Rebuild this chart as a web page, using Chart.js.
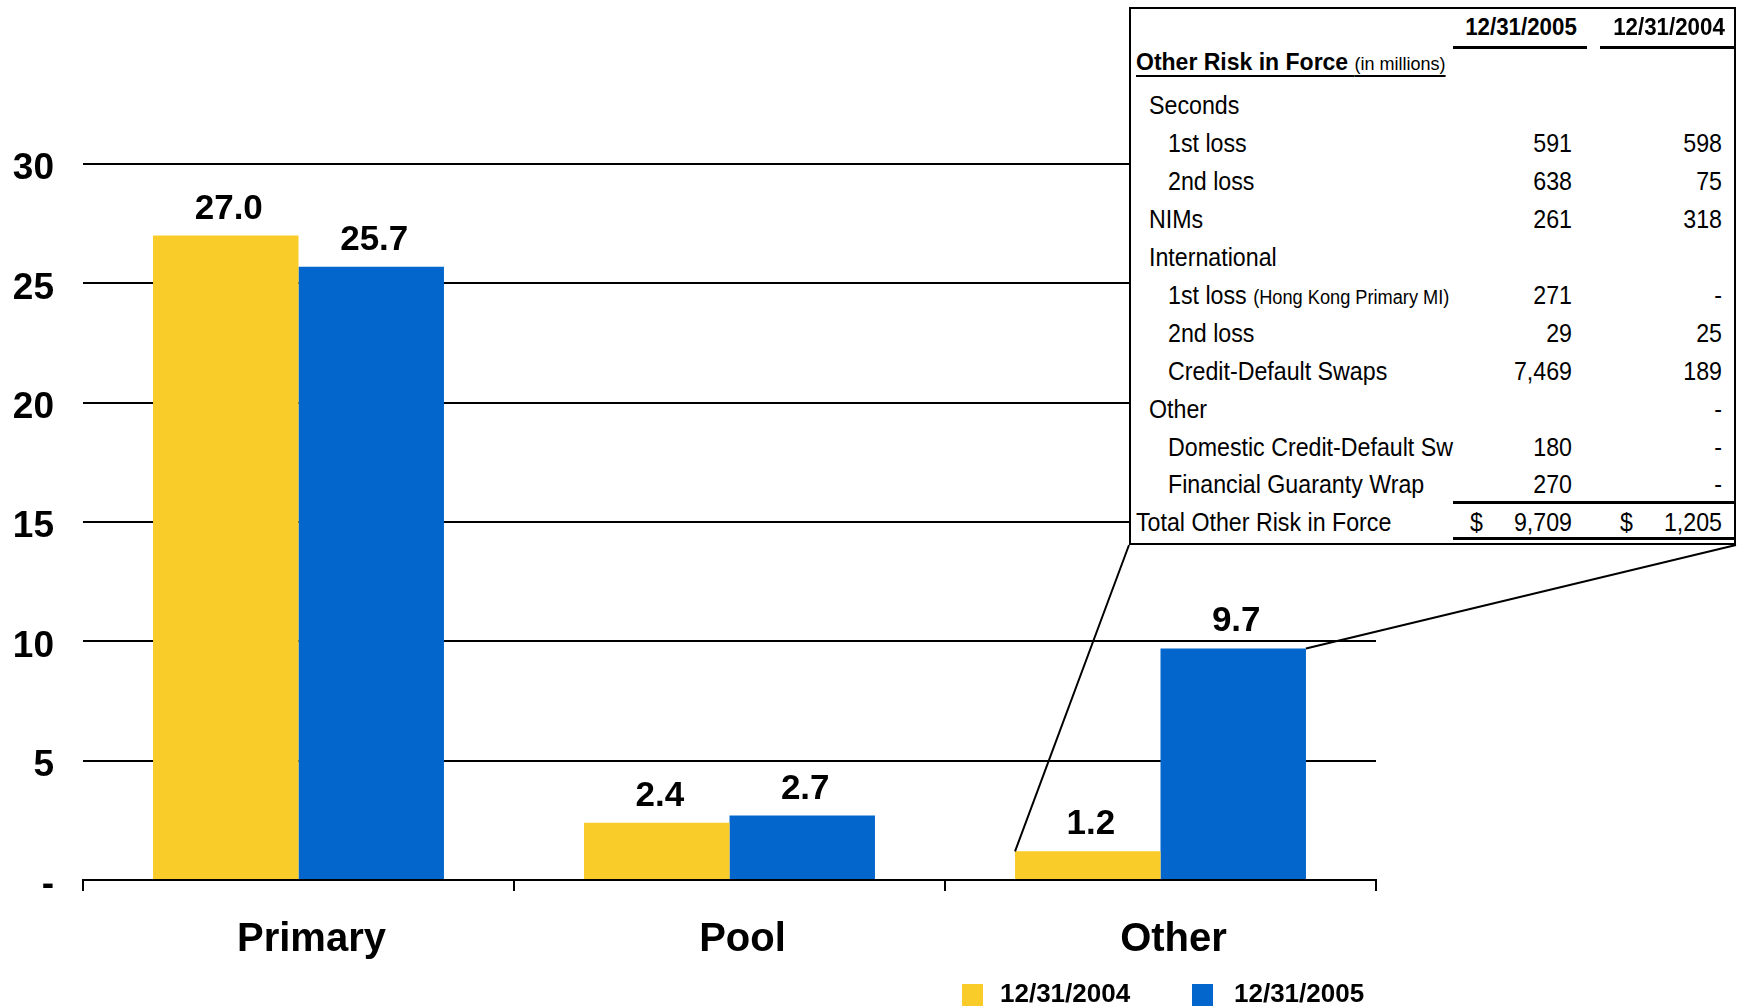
<!DOCTYPE html>
<html>
<head>
<meta charset="utf-8">
<script src="https://cdn.jsdelivr.net/npm/chart.js@4.4.1/dist/chart.umd.min.js"></script>
<style>
  html, body { margin: 0; padding: 0; background: #fff; overflow: hidden; }
  #wrap { position: relative; width: 1744px; height: 1006px; overflow: hidden; }
  #chart { position: absolute; left: 0; top: 0; }
  .t { position: absolute; white-space: nowrap; color: #000;
       font-family: "Liberation Sans", Arial, sans-serif; }
  .rule { position: absolute; background: #000; }
  #inset { position: absolute; left: 1129px; top: 7px; width: 607px; height: 538px;
           box-sizing: border-box; border: 2px solid #000; background: #fff; }
  .lg-box { position: absolute; width: 21px; height: 22px; }
</style>
</head>
<body>
<div id="wrap">
  <canvas id="chart" width="1744" height="1006"></canvas>
  <div id="inset"></div>
  <div id="legend"></div>
</div>
<script>
// ---- chart data (billions) ----
const categories = ['Primary', 'Pool', 'Other'];
const seriesLabels = ['12/31/2004', '12/31/2005'];
const values2004 = [27.0, 2.4, 1.2];
const values2005 = [25.7, 2.7, 9.7];
const seriesColors = ['#F9CC29', '#0366CC'];

// ---- inset table: Other Risk in Force (in millions) ----
const tableTitle = 'Other Risk in Force';
const tableTitleNote = '(in millions)';
const tableHeaders = ['12/31/2005', '12/31/2004'];
const rowLabels = ['Seconds', '1st loss', '2nd loss', 'NIMs', 'International', '1st loss', '2nd loss',
                   'Credit-Default Swaps', 'Other', 'Domestic Credit-Default Sw', 'Financial Guaranty Wrap'];
const rowNotes = ['', '', '', '', '', '(Hong Kong Primary MI)', '', '', '', '', ''];
const rowIndent = [1, 2, 2, 1, 1, 2, 2, 2, 1, 2, 2];
const rows2005 = ['', '591', '638', '261', '', '271', '29', '7,469', '', '180', '270'];
const rows2004 = ['', '598', '75', '318', '', '-', '25', '189', '-', '-', '-'];
const totalLabel = 'Total Other Risk in Force';
const totals = ['9,709', '1,205'];

const SANS = '"Liberation Sans", Arial, sans-serif';

// ---- inset table layout ----
const inset = document.getElementById('inset');
const ORG_X = 1131, ORG_Y = 9;           // inner origin of the inset box (page px)
const BODY = 25.5, BODY_SX = 0.91;       // condensed body type

function text(str, x, baseline, size, weight, align, sx) {
  const el = document.createElement('div');
  el.className = 't';
  el.style.fontSize = size + 'px';
  el.style.lineHeight = size + 'px';
  el.style.fontWeight = weight || 'normal';
  el.style.top = (baseline - 0.8465 * size - ORG_Y) + 'px';
  if (align === 'right') {
    el.style.left = (x - 400 - ORG_X) + 'px';
    el.style.width = '400px';
    el.style.textAlign = 'right';
    el.style.transformOrigin = 'right center';
  } else if (align === 'center') {
    el.style.left = (x - 200 - ORG_X) + 'px';
    el.style.width = '400px';
    el.style.textAlign = 'center';
    el.style.transformOrigin = 'center center';
  } else {
    el.style.left = (x - ORG_X) + 'px';
    el.style.transformOrigin = 'left center';
  }
  if (sx && sx !== 1) el.style.transform = 'scaleX(' + sx + ')';
  el.textContent = str;
  inset.appendChild(el);
  return el;
}
function rule(x1, x2, y, h) {
  const el = document.createElement('div');
  el.className = 'rule';
  el.style.left = (x1 - ORG_X) + 'px';
  el.style.width = (x2 - x1) + 'px';
  el.style.top = (y - ORG_Y) + 'px';
  el.style.height = h + 'px';
  inset.appendChild(el);
}

const COL_CENTER = [1521, 1669];
const COL_RIGHT = [1572, 1722];
const COL_RULE = [[1453, 1587], [1600, 1734]];
const INDENT_X = [1136, 1149, 1168];

tableHeaders.forEach((h, i) => {
  text(h, COL_CENTER[i], 35, 23, 'bold', 'center', 0.97);
  rule(COL_RULE[i][0], COL_RULE[i][1], 46, 3);
});

// title with underline
const title = text('', INDENT_X[0], 70.5, 23, 'bold', 'left', 1);
title.style.textDecoration = 'underline';
title.style.textDecorationThickness = '2px';
title.style.textUnderlineOffset = '5px';
title.innerHTML = tableTitle + ' <span style="font-weight:normal;font-size:18px">' + tableTitleNote + '</span>';

const ROW0 = 115, PITCH = 37.9;
rowLabels.forEach((lab, i) => {
  const base = ROW0 + i * PITCH;
  const el = text(lab, INDENT_X[rowIndent[i]], base, BODY, 'normal', 'left', BODY_SX);
  if (rowNotes[i]) {
    el.innerHTML = lab + ' <span style="font-size:20px">' + rowNotes[i] + '</span>';
  }
  if (rows2005[i]) text(rows2005[i], COL_RIGHT[0], base, BODY, 'normal', 'right', BODY_SX);
  if (rows2004[i]) text(rows2004[i], COL_RIGHT[1], base, BODY, 'normal', 'right', BODY_SX);
});

const totalBase = ROW0 + rowLabels.length * PITCH;
rule(1453, 1734, 501, 3);
text(totalLabel, INDENT_X[0], totalBase, BODY, 'normal', 'left', BODY_SX);
text('$', 1470, totalBase, BODY, 'normal', 'left', BODY_SX);
text('$', 1620, totalBase, BODY, 'normal', 'left', BODY_SX);
text(totals[0], COL_RIGHT[0], totalBase, BODY, 'normal', 'right', BODY_SX);
text(totals[1], COL_RIGHT[1], totalBase, BODY, 'normal', 'right', BODY_SX);
rule(1453, 1734, 537, 3);

// ---- plugins ----
const valueLabels = {
  id: 'valueLabels',
  afterDatasetsDraw(chart) {
    const { ctx } = chart;
    ctx.save();
    ctx.font = 'bold 35px ' + SANS;
    ctx.fillStyle = '#000';
    ctx.textAlign = 'center';
    ctx.textBaseline = 'alphabetic';
    chart.data.datasets.forEach((ds, i) => {
      chart.getDatasetMeta(i).data.forEach((bar, j) => {
        ctx.fillText(ds.data[j].toFixed(1), bar.x + 3, bar.y - 17);
      });
    });
    ctx.restore();
  }
};

// callout lines from the "Other" bars to the inset box corners
const calloutLines = {
  id: 'calloutLines',
  afterDatasetsDraw(chart) {
    const { ctx } = chart;
    const idx = categories.indexOf('Other');
    const r = inset.getBoundingClientRect();
    const c = chart.canvas.getBoundingClientRect();
    const left = chart.getDatasetMeta(0).data[idx];
    const right = chart.getDatasetMeta(1).data[idx];
    ctx.save();
    ctx.strokeStyle = '#000';
    ctx.lineWidth = 2;
    ctx.beginPath();
    ctx.moveTo(left.x - left.width / 2, left.y);
    ctx.lineTo(r.left - c.left, r.bottom - c.top);
    ctx.moveTo(right.x + right.width / 2, right.y);
    ctx.lineTo(r.right - c.left, r.bottom - c.top);
    ctx.stroke();
    ctx.restore();
  }
};

// ---- chart ----
const chart = new Chart(document.getElementById('chart'), {
  type: 'bar',
  data: {
    labels: categories,
    datasets: [
      { label: seriesLabels[0], data: values2004, backgroundColor: seriesColors[0] },
      { label: seriesLabels[1], data: values2005, backgroundColor: seriesColors[1] }
    ]
  },
  options: {
    responsive: false,
    animation: false,
    layout: { padding: { left: 13, top: 164, right: 368, bottom: 0 } },
    datasets: { bar: { categoryPercentage: 0.675, barPercentage: 1.0 } },
    plugins: { legend: { display: false }, tooltip: { enabled: false } },
    scales: {
      x: {
        grid: { offset: true, drawOnChartArea: false, drawTicks: true, tickLength: 11, color: '#000', lineWidth: 2 },
        border: { display: true, color: '#000', width: 2 },
        ticks: { color: '#000', padding: 25, labelOffset: 13, font: { family: SANS, size: 40, weight: 'bold' } },
        afterFit(s) { s.height = 126; }
      },
      y: {
        min: 0, max: 30,
        grid: { color: '#000', lineWidth: 2, drawTicks: false },
        border: { display: false },
        ticks: {
          stepSize: 5, color: '#000', padding: 29, labelOffset: 5,
          font: { family: SANS, size: 37, weight: 'bold' },
          callback: v => (v === 0 ? '-' : v)
        },
        afterFit(s) { s.width = 70; }
      }
    }
  },
  plugins: [valueLabels, calloutLines]
});

// ---- legend ----
const legend = document.getElementById('legend');
const LEG_BOX_X = [962, 1192], LEG_TEXT_X = [1000, 1234];
chart.data.datasets.forEach((ds, i) => {
  const box = document.createElement('div');
  box.className = 'lg-box';
  box.style.left = LEG_BOX_X[i] + 'px';
  box.style.top = '984px';
  box.style.background = ds.backgroundColor;
  legend.appendChild(box);
  const t = document.createElement('div');
  t.className = 't';
  t.style.font = 'bold 26px ' + SANS;
  t.style.lineHeight = '26px';
  t.style.left = LEG_TEXT_X[i] + 'px';
  t.style.top = (1002 - 0.8465 * 26) + 'px';
  t.textContent = ds.label;
  legend.appendChild(t);
});
</script>
</body>
</html>
